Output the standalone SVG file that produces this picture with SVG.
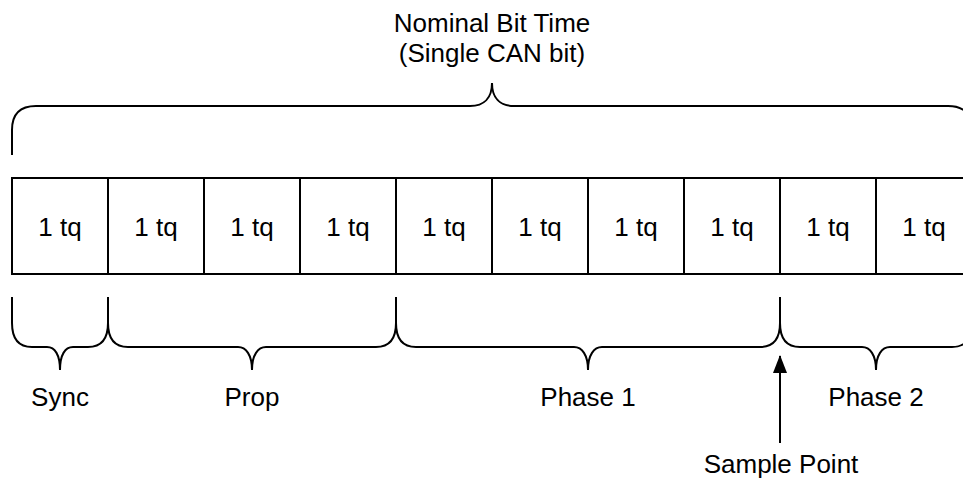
<svg xmlns="http://www.w3.org/2000/svg" width="963" height="480" viewBox="0 0 963 480">
<defs>
<style>
.t{font-family:"Liberation Sans",Arial,sans-serif;font-size:26px;fill:#000;text-anchor:middle}
.box{fill:#fff;stroke:#000;stroke-width:2}
.br{fill:none;stroke:#000;stroke-width:2}
</style>
<marker id="ah" markerWidth="18" markerHeight="14" refX="17" refY="7" orient="auto" markerUnits="userSpaceOnUse" viewBox="0 0 18 14">
<path d="M0,0 L18,7 L0,14 Z" fill="#000"/>
</marker>
</defs>
<rect width="963" height="480" fill="#fff"/>
<g id="title">
<text class="t" x="492" y="32">Nominal Bit Time</text>
<text class="t" x="492" y="62">(Single CAN bit)</text>
</g>
<g id="tq1"><rect class="box" x="12" y="178" width="96" height="96"/><text class="t" x="60" y="236">1 tq</text></g>
<g id="tq2"><rect class="box" x="108" y="178" width="96" height="96"/><text class="t" x="156" y="236">1 tq</text></g>
<g id="tq3"><rect class="box" x="204" y="178" width="96" height="96"/><text class="t" x="252" y="236">1 tq</text></g>
<g id="tq4"><rect class="box" x="300" y="178" width="96" height="96"/><text class="t" x="348" y="236">1 tq</text></g>
<g id="tq5"><rect class="box" x="396" y="178" width="96" height="96"/><text class="t" x="444" y="236">1 tq</text></g>
<g id="tq6"><rect class="box" x="492" y="178" width="96" height="96"/><text class="t" x="540" y="236">1 tq</text></g>
<g id="tq7"><rect class="box" x="588" y="178" width="96" height="96"/><text class="t" x="636" y="236">1 tq</text></g>
<g id="tq8"><rect class="box" x="684" y="178" width="96" height="96"/><text class="t" x="732" y="236">1 tq</text></g>
<g id="tq9"><rect class="box" x="780" y="178" width="96" height="96"/><text class="t" x="828" y="236">1 tq</text></g>
<g id="tq10"><rect class="box" x="876" y="178" width="96" height="96"/><text class="t" x="924" y="236">1 tq</text></g>
<g id="connectors">
<path class="br" d="M12,155 V130 Q12,106 36,106 H470 C484,106 492,98 492,83 C492,98 500,106 514,106 H948 Q972,106 972,130 V155"/>
<path class="br" d="M12,297 V323 Q12,347 32,347 H47 C55,347 60,355 60,370 C60,355 65,347 73,347 H88 Q108,347 108,323 V297"/>
<path class="br" d="M108,297 V323 Q108,347 128,347 H238 C246,347 252,355 252,370 C252,355 258,347 266,347 H376 Q396,347 396,323 V297"/>
<path class="br" d="M396,297 V323 Q396,347 416,347 H574 C582,347 588,355 588,370 C588,355 594,347 602,347 H760 Q780,347 780,323 V297"/>
<path class="br" d="M780,297 V323 Q780,347 800,347 H862 C870,347 876,355 876,370 C876,355 882,347 890,347 H952 Q972,347 972,323 V297"/>
<line class="br" x1="780" y1="443" x2="780" y2="356" marker-end="url(#ah)"/>
</g>
<g id="labels">
<text class="t" x="60" y="406">Sync</text>
<text class="t" x="252" y="406">Prop</text>
<text class="t" x="588" y="406">Phase 1</text>
<text class="t" x="876" y="406">Phase 2</text>
<text class="t" x="781" y="473">Sample Point</text>
</g>
</svg>
